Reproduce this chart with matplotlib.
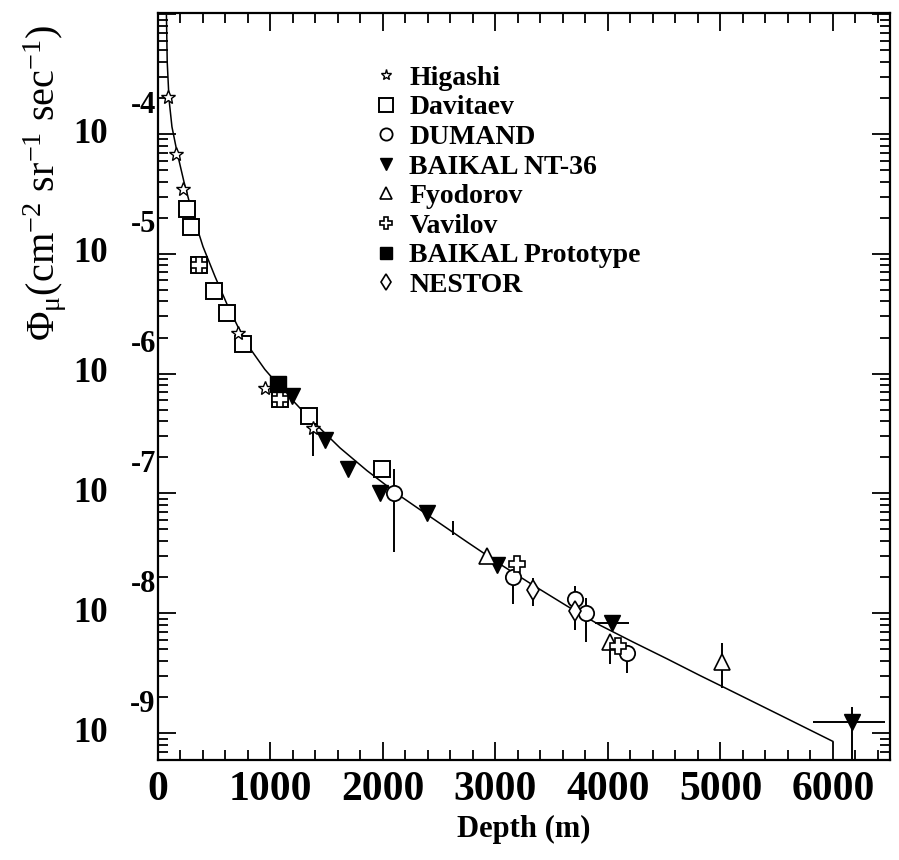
import numpy as np
import matplotlib
matplotlib.use("Agg")
import matplotlib.pyplot as plt
from matplotlib.ticker import MultipleLocator, LogLocator, NullFormatter, FixedLocator
from matplotlib.lines import Line2D
import matplotlib.transforms as mtransforms

# ---------------- data (depth in m, log10 of flux) ----------------
curve_depth = [75, 82, 98, 124, 169, 231, 302, 400, 507, 613, 711, 818, 950, 1084, 1324,
               1618, 1858, 2151, 2444, 2747, 3040, 3333, 3636, 3929, 4222, 4524, 4818,
               5013, 5529, 6000]
curve_logflux = [-3.01, -3.40, -3.71, -3.94, -4.15, -4.40, -4.65, -4.94, -5.19, -5.42,
                 -5.61, -5.79, -5.965, -6.11, -6.35, -6.62, -6.81, -7.02, -7.21, -7.405,
                 -7.59, -7.765, -7.94, -8.10, -8.24, -8.38, -8.52, -8.61, -8.85, -9.07]

higashi_depth = [89, 160, 222, 711, 951, 1378]
higashi_log = [-3.69, -4.17, -4.46, -5.66, -6.12, -6.45]
higashi_lo = [0, 0, 0, 0, 0, 0.24]
higashi_hi = [0, 0, 0, 0, 0, 0]

davitaev_depth = [258, 293, 364, 498, 613, 756, 1084, 1342, 1991]
davitaev_log = [-4.63, -4.78, -5.09, -5.31, -5.49, -5.75, -6.21, -6.35, -6.80]

dumand_depth = [2098, 3156, 3707, 3804, 4169]
dumand_log = [-7.00, -7.70, -7.88, -8.00, -8.33]
dumand_lo = [0.49, 0.22, 0.26, 0.24, 0.17]
dumand_hi = [0.20, 0.0, 0.11, 0.13, 0.0]

baikal_depth = [1191, 1484, 1689, 1973, 2391, 3013, 4036, 6169]
baikal_log = [-6.19, -6.55, -6.80, -7.00, -7.16, -7.60, -8.08, -8.91]
baikal_lo = [0, 0, 0, 0, 0, 0, 0, 0.31]
baikal_hi = [0, 0, 0, 0, 0, 0, 0, 0.13]
baikal_xlo = [0, 0, 0, 0, 0, 0, 150, 347]
baikal_xhi = [0, 0, 0, 0, 0, 0, 150, 293]

fyodorov_depth = [2924, 4018, 5013]
fyodorov_log = [-7.52, -8.24, -8.41]
fyodorov_lo = [0, 0.18, 0.21]
fyodorov_hi = [0, 0, 0.16]

vavilov_depth = [364, 1084, 3191, 4089]
vavilov_log = [-5.09, -6.21, -7.59, -8.27]

proto_depth = [1067]
proto_log = [-6.09]

nestor_depth = [3333, 3707]
nestor_log = [-7.81, -7.98]
nestor_lo = [0.13, 0.16]
nestor_hi = [0.10, 0.0]

orphan_depth = [2622]
orphan_log = [-7.29]
orphan_lo = [0.06]
orphan_hi = [0.06]

xticks = [0, 1000, 2000, 3000, 4000, 5000, 6000]
ydecades = [-4, -5, -6, -7, -8, -9]
legend_labels = ['Higashi', 'Davitaev', 'DUMAND', 'BAIKAL NT-36', 'Fyodorov',
                 'Vavilov', 'BAIKAL Prototype', 'NESTOR']

# ---------------- figure ----------------
plt.rcParams['font.family'] = ['Liberation Serif', 'DejaVu Serif']
plt.rcParams['mathtext.fontset'] = 'custom'
plt.rcParams['mathtext.rm'] = 'Liberation Serif'
plt.rcParams['mathtext.it'] = 'Liberation Serif:italic'
plt.rcParams['mathtext.bf'] = 'Liberation Serif:bold'

fig = plt.figure(figsize=(8.99, 8.60), dpi=100)
ax = fig.add_axes([158/899, 1-760/860, (890-158)/899, (760-13)/860])
ax.set_yscale('log')
ax.set_xlim(0, 6507)
ax.set_ylim(10**-9.225, 10**-2.99)


def flux(v):
    return 10.0 ** np.asarray(v, dtype=float)


def yerr(logv, lo, hi):
    logv = np.asarray(logv, float)
    return [flux(logv) - flux(logv - np.asarray(lo)), flux(logv + np.asarray(hi)) - flux(logv)]


ax.plot(curve_depth, flux(curve_logflux), color='black', lw=1.1, zorder=2)

ebk = dict(ecolor='black', elinewidth=1.4, capsize=0, zorder=3)

styles = {
    'Higashi': dict(marker='*', ms=10, mfc='white', mec='black', mew=1.0),
    'Davitaev': dict(marker='s', ms=12, mfc='white', mec='black', mew=1.4),
    'DUMAND': dict(marker='o', ms=11, mfc='white', mec='black', mew=1.3),
    'BAIKAL NT-36': dict(marker='v', ms=11, mfc='black', mec='black', mew=1.0),
    'Fyodorov': dict(marker='^', ms=11, mfc='white', mec='black', mew=1.2),
    'Vavilov': dict(marker='P', ms=11, mfc='white', mec='black', mew=1.2),
    'BAIKAL Prototype': dict(marker='s', ms=11, mfc='black', mec='black', mew=1.0),
    'NESTOR': dict(marker='d', ms=10, mfc='white', mec='black', mew=1.2),
}

ax.errorbar(higashi_depth, flux(higashi_log), yerr=yerr(higashi_log, higashi_lo, higashi_hi),
            ls='none', **styles['Higashi'], **ebk)
ax.plot(davitaev_depth, flux(davitaev_log), ls='none', zorder=3, **styles['Davitaev'])
ax.errorbar(dumand_depth, flux(dumand_log), yerr=yerr(dumand_log, dumand_lo, dumand_hi),
            ls='none', **styles['DUMAND'], **ebk)
ax.errorbar(baikal_depth, flux(baikal_log), yerr=yerr(baikal_log, baikal_lo, baikal_hi),
            xerr=[baikal_xlo, baikal_xhi], ls='none', **styles['BAIKAL NT-36'], **ebk)
ax.errorbar(fyodorov_depth, flux(fyodorov_log), yerr=yerr(fyodorov_log, fyodorov_lo, fyodorov_hi),
            ls='none', **styles['Fyodorov'], **ebk)
ax.plot(vavilov_depth, flux(vavilov_log), ls='none', zorder=4, **styles['Vavilov'])
ax.plot(proto_depth, flux(proto_log), ls='none', zorder=4, **styles['BAIKAL Prototype'])
ax.errorbar(nestor_depth, flux(nestor_log), yerr=yerr(nestor_log, nestor_lo, nestor_hi),
            ls='none', **styles['NESTOR'], **ebk)
ax.errorbar(orphan_depth, flux(orphan_log), yerr=yerr(orphan_log, orphan_lo, orphan_hi),
            fmt='none', **ebk)

# ---------------- axes styling ----------------
for s in ax.spines.values():
    s.set_linewidth(1.6)

ax.xaxis.set_major_locator(FixedLocator(xticks))
ax.xaxis.set_minor_locator(MultipleLocator(200))
ax.yaxis.set_major_locator(LogLocator(base=10, numticks=20))
ax.yaxis.set_minor_locator(LogLocator(base=10, subs=np.arange(2, 10), numticks=20))
ax.yaxis.set_major_formatter(NullFormatter())
ax.yaxis.set_minor_formatter(NullFormatter())
ax.tick_params(which='both', direction='in', top=True, right=True, width=1.3)
ax.tick_params(which='major', length=13)
ax.tick_params(which='minor', length=7)
ax.tick_params(axis='x', which='major', pad=8)
ax.set_xticklabels([str(t) for t in xticks], fontweight='bold', fontsize=30)

# y tick labels: "10" with a raised exponent
trans = mtransforms.blended_transform_factory(ax.transAxes, ax.transData)
for d in ydecades:
    ax.text(-0.068, 10.0 ** d, '10', transform=trans, ha='right', va='center',
            fontsize=25, fontweight='bold')
    t = ax.text(-0.003, 10.0 ** d, '-%d' % (-d), ha='right', va='center',
                fontsize=22, fontweight='bold')
    t.set_transform(trans + mtransforms.ScaledTranslation(0, 29/100, fig.dpi_scale_trans))

ax.set_xlabel('Depth (m)', fontsize=22, fontweight='bold', labelpad=4)
fig.text(45/899, 1-183/860, r'Φ$_{\mathrm{μ}}$(cm$^{-2}$ sr$^{-1}$ sec$^{-1}$)',
         rotation=90, ha='center', va='center', fontsize=29)

handles = []
for lab in legend_labels:
    st = dict(styles[lab])
    st['ms'] = st['ms'] * 0.8
    handles.append(Line2D([], [], ls='none', **st))
ax.legend(handles, legend_labels, loc='upper left', bbox_to_anchor=(0.296, 0.930),
          frameon=False, prop={'family': 'Liberation Serif', 'weight': 'bold', 'size': 20},
          handlelength=0.8, handletextpad=0.45, labelspacing=0.15,
          borderaxespad=0, borderpad=0)

fig.savefig('out.png', dpi=100, facecolor='white')
